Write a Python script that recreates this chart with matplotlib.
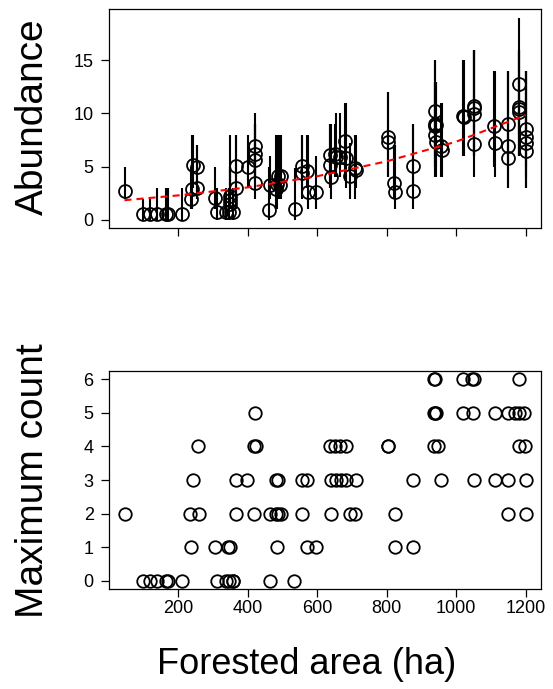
import numpy as np
import matplotlib.pyplot as plt

plt.rcParams['font.family'] = ['Liberation Sans', 'DejaVu Sans']

# top panel: estimated abundance with interval, per site-year
area_top = [48, 100, 119, 140, 165, 170, 211, 237, 239, 242, 256, 256,
            306, 311, 337, 346, 349, 349, 350, 358, 366, 366, 400,
            421, 421, 421, 421, 463, 466, 482, 485, 488, 492, 495,
            536, 556, 558, 572, 575, 597, 637, 638, 640, 652, 655, 666,
            680, 682, 695, 709, 712, 803, 805, 822, 823, 877, 877,
            939, 940, 942, 939, 940, 941, 957, 959, 1020, 1022,
            1051, 1051, 1051, 1052, 1110, 1111, 1150, 1150, 1150,
            1181, 1181, 1182, 1182, 1202, 1202, 1202, 1202]
abund = [2.7, 0.6, 0.6, 0.6, 0.6, 0.6, 0.6, 2.0, 2.9, 5.2, 5.0, 3.0,
         2.1, 0.75, 0.75, 0.75, 1.5, 1.9, 2.2, 0.75, 3.0, 5.1, 5.0,
         6.9, 6.2, 5.6, 3.5, 0.95, 3.3, 2.9, 3.4, 4.1, 3.3, 4.1,
         1.0, 5.1, 4.4, 4.6, 2.6, 2.65, 6.1, 5.2, 4.0, 6.2, 5.9, 5.9,
         7.4, 5.8, 4.1, 4.85, 4.7, 7.75, 7.3, 3.5, 2.6, 5.05, 2.7,
         10.2, 9.0, 8.9, 8.8, 8.0, 7.35, 6.9, 6.6, 9.75, 9.7,
         10.7, 10.5, 9.95, 7.1, 8.8, 7.25, 9.0, 6.95, 5.8,
         12.8, 10.6, 10.4, 10.15, 8.5, 7.8, 7.2, 6.5]
lower = [2, 0, 0, 0, 0, 0, 0, 1, 1, 3, 2, 2,
         1, 0, 0, 0, 1, 1, 1, 0, 1, 2, 3,
         4, 4, 3, 2, 0, 2, 1, 1, 2, 2, 2,
         0, 3, 2, 3, 1, 1, 3, 3, 2, 4, 4, 4,
         4, 3, 2, 2, 3, 4, 4, 2, 1, 3, 1,
         6, 5, 5, 5, 4, 4, 4, 4, 6, 6,
         6, 6, 6, 4, 5, 4, 5, 3, 3,
         8, 6, 6, 6, 5, 4, 3, 3]
upper = [5, 2, 2, 3, 3, 3, 3, 5, 8, 8, 7, 7,
         5, 3, 3, 3, 5, 5, 8, 3, 8, 8, 8,
         10, 9, 9, 9, 5, 6, 8, 8, 8, 8, 8,
         4.9, 8, 8, 8, 8, 6, 9, 9, 9, 9, 10, 10,
         11, 11, 7.2, 8, 8, 12, 12, 7, 7, 9, 9,
         15, 13, 13, 15, 13, 13, 11, 11, 15, 15,
         16, 16, 16, 16, 14, 14, 14, 14, 14,
         19, 16, 16, 16, 14, 14, 14, 14]

# fitted trend
fit_area = [46, 200, 400, 600, 800, 1000, 1200]
fit_abund = [1.85, 2.3, 3.05, 4.1, 5.5, 7.35, 9.85]

# bottom panel: maximum count per site-year
area_bot = [100, 119, 140, 165, 170, 211, 311, 337, 347, 357, 359, 464, 535,
            237, 306, 345, 349, 484, 572, 597, 823, 877,
            48, 235, 261, 366, 419, 466, 481, 488, 495, 558, 640, 695, 709, 823, 1150, 1200,
            242, 366, 399, 481, 489, 557, 572, 639, 654, 670, 684, 712, 877, 955, 1052, 1112, 1148, 1200,
            258, 420, 423, 638, 653, 666, 682, 803, 805, 937, 947, 1182, 1197,
            421, 937, 940, 942, 1020, 1049, 1111, 1148, 1170, 1181, 1196,
            937, 940, 1020, 1047, 1050, 1182]
max_count = ([0] * 13 + [1] * 9 + [2] * 16 + [3] * 18 + [4] * 13 + [5] * 11 + [6] * 6)

fig = plt.figure(figsize=(5.53, 6.89), dpi=100)
ax1 = fig.add_axes([0.1971, 0.6691, 0.7812, 0.3179])
ax2 = fig.add_axes([0.1971, 0.1451, 0.7812, 0.3164])

ax1.vlines(area_top, lower, upper, color='black', lw=1.5)
ax1.plot(area_top, abund, 'o', ms=9.3, mfc='none', mec='black', mew=1.3)
ax1.plot(fit_area, fit_abund, color='red', lw=1.5, ls=(0, (3.4, 2.4)))
ax1.set_xlim(1.6, 1244)
ax1.set_ylim(-0.76, 19.82)
ax1.set_yticks([0, 5, 10, 15])
ax1.set_xticks([200, 400, 600, 800, 1000, 1200])
ax1.set_xticklabels([])

ax2.plot(area_bot, max_count, 'o', ms=9, mfc='none', mec='black', mew=1.3)
ax2.set_xlim(1.6, 1244)
ax2.set_ylim(-0.24, 6.24)
ax2.set_yticks(range(7))
ax2.set_xticks([200, 400, 600, 800, 1000, 1200])

for ax in (ax1, ax2):
    for s in ax.spines.values():
        s.set_linewidth(0.9)
    ax.tick_params(direction='out', length=5.5, width=0.9, labelsize=13)
    ax.tick_params(axis='y', pad=5.5)
    ax.tick_params(axis='x', pad=2.5)

fig.text(0.060, 0.830, 'Abundance', rotation=90, ha='center', va='center', fontsize=28)
fig.text(0.060, 0.303, 'Maximum count', rotation=90, ha='center', va='center', fontsize=28)
fig.text(0.555, 0.035, 'Forested area (ha)', ha='center', va='center', fontsize=26)

fig.savefig('out.png', dpi=100)
